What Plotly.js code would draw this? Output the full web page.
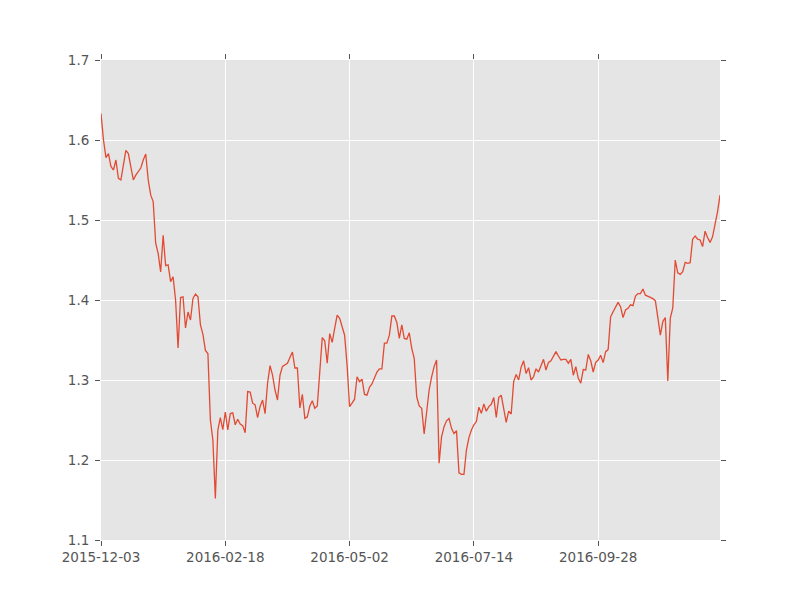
<!DOCTYPE html>
<html>
<head>
<meta charset="utf-8">
<script src="https://cdn.plot.ly/plotly-3.0.1.min.js"></script>
<style>html,body{margin:0;padding:0;background:#fff;}#chart{width:800px;height:600px;}</style>
</head>
<body>
<div id="chart"></div>
<script>
// Series values (one per trading row)
const values = [
  1.633, 1.60, 1.578, 1.583, 1.567, 1.5625, 1.575, 1.552, 1.55, 1.571,
  1.587, 1.583, 1.567, 1.55, 1.556, 1.561, 1.565, 1.575, 1.5825, 1.55,
  1.531, 1.523, 1.471, 1.458, 1.435, 1.481, 1.443, 1.444, 1.423, 1.429,
  1.40, 1.34, 1.403, 1.404, 1.365, 1.385, 1.375, 1.402, 1.4075, 1.404,
  1.369, 1.357, 1.337, 1.333, 1.25, 1.225, 1.152, 1.2375, 1.253, 1.238,
  1.26, 1.2375, 1.258, 1.259, 1.244, 1.251, 1.245, 1.243, 1.234, 1.2855,
  1.285, 1.271, 1.269, 1.253, 1.267, 1.275, 1.258, 1.296, 1.318, 1.306,
  1.2875, 1.275, 1.306, 1.317, 1.319, 1.321, 1.328, 1.335, 1.315, 1.315,
  1.265, 1.282, 1.252, 1.254, 1.2675, 1.274, 1.2646, 1.2675, 1.31, 1.353,
  1.349, 1.321, 1.358, 1.347, 1.3646, 1.381, 1.377, 1.3667, 1.356, 1.318,
  1.2667, 1.271, 1.276, 1.304, 1.298, 1.301, 1.282, 1.281, 1.291, 1.295,
  1.303, 1.31, 1.314, 1.314, 1.346, 1.346, 1.356, 1.38, 1.38, 1.372,
  1.352, 1.369, 1.352, 1.351, 1.359, 1.3396, 1.327, 1.279, 1.2675, 1.2646,
  1.2325, 1.2625, 1.2875, 1.304, 1.3167, 1.325, 1.196, 1.229, 1.2417, 1.249,
  1.252, 1.2396, 1.233, 1.2367, 1.184, 1.182, 1.182, 1.2125, 1.228, 1.2375,
  1.244, 1.248, 1.266, 1.2583, 1.27, 1.261, 1.2667, 1.2696, 1.278, 1.2533,
  1.2783, 1.281, 1.2646, 1.247, 1.261, 1.2575, 1.298, 1.307, 1.30, 1.316,
  1.324, 1.308, 1.3154, 1.30, 1.304, 1.314, 1.31, 1.3175, 1.3258, 1.3125,
  1.322, 1.324, 1.329, 1.3354, 1.33, 1.325, 1.3258, 1.3258, 1.321, 1.3258,
  1.306, 1.3167, 1.302, 1.296, 1.313, 1.3125, 1.332, 1.324, 1.31, 1.322,
  1.325, 1.331, 1.3217, 1.3354, 1.338, 1.379, 1.3854, 1.391, 1.397, 1.3917,
  1.378, 1.3875, 1.3896, 1.394, 1.393, 1.405, 1.408, 1.408, 1.4138, 1.406,
  1.405, 1.4033, 1.4017, 1.399, 1.378, 1.356, 1.373, 1.378, 1.2987, 1.377,
  1.39, 1.45, 1.434, 1.432, 1.4354, 1.447, 1.4458, 1.4467, 1.476, 1.48,
  1.476, 1.475, 1.4667, 1.486, 1.478, 1.472, 1.479, 1.494, 1.51, 1.531
];
// Tick positions (row numbers) and their date labels
const tickRows = [0, 50, 100, 150, 200];
const tickLabels = ['2015-12-03', '2016-02-18', '2016-05-02', '2016-07-14', '2016-09-28'];
const yTicks = [1.1, 1.2, 1.3, 1.4, 1.5, 1.6, 1.7];

const rows = values.map((v, i) => i);

const font = {family: 'DejaVu Sans, sans-serif', size: 13.5, color: '#555555'};

const trace = {
  x: rows,
  y: values,
  type: 'scatter',
  mode: 'lines',
  line: {color: '#E24A33', width: 1.3},
  hoverinfo: 'skip'
};

const axisCommon = {
  showgrid: true,
  gridcolor: '#FFFFFF',
  gridwidth: 1,
  zeroline: false,
  showline: false,
  ticks: 'outside',
  ticklen: 5,
  tickwidth: 1,
  tickcolor: '#555555',
  mirror: 'ticks',
  tickfont: font
};

const layout = {
  width: 800,
  height: 600,
  paper_bgcolor: '#FFFFFF',
  plot_bgcolor: '#E5E5E5',
  margin: {l: 101, r: 80, t: 60, b: 60, pad: 0},
  showlegend: false,
  xaxis: Object.assign({}, axisCommon, {
    range: [0, values.length - 1],
    tickmode: 'array',
    tickvals: tickRows,
    ticktext: tickLabels
  }),
  yaxis: Object.assign({}, axisCommon, {
    range: [1.1, 1.7],
    tickmode: 'array',
    tickvals: yTicks,
    ticktext: yTicks.map(v => v.toFixed(1)),
    ticklabelstandoff: 3
  })
};

Plotly.newPlot('chart', [trace], layout, {staticPlot: true, displayModeBar: false});
</script>
</body>
</html>
